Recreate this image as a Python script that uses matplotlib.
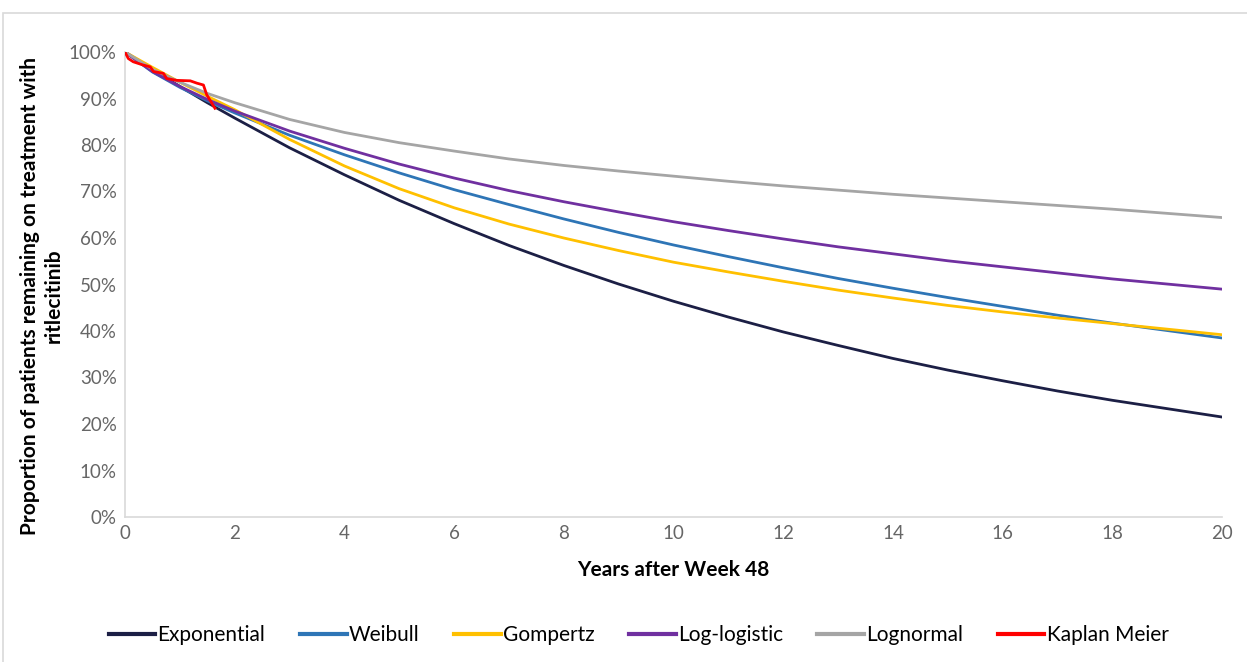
import matplotlib.pyplot as plt
from matplotlib.patches import Rectangle
from matplotlib.ticker import PercentFormatter

# values
years = [0, 0.5, 1, 1.5, 2, 3, 4, 5, 6, 7, 8, 9, 10, 11, 12, 13, 14, 15, 16, 17, 18, 19, 20]
exponential = [1.0, 0.962, 0.926, 0.891, 0.858, 0.794, 0.736, 0.681, 0.631, 0.584, 0.541, 0.501, 0.464,
               0.430, 0.398, 0.369, 0.341, 0.316, 0.293, 0.271, 0.251, 0.233, 0.215]
weibull = [1.0, 0.957, 0.924, 0.895, 0.869, 0.821, 0.779, 0.740, 0.704, 0.672, 0.641, 0.612, 0.585,
           0.560, 0.536, 0.513, 0.492, 0.472, 0.453, 0.434, 0.417, 0.401, 0.385]
gompertz = [1.0, 0.967, 0.935, 0.905, 0.876, 0.812, 0.755, 0.706, 0.665, 0.630, 0.600, 0.573, 0.548,
            0.527, 0.507, 0.488, 0.471, 0.455, 0.441, 0.428, 0.416, 0.404, 0.392]
loglogistic = [1.0, 0.958, 0.926, 0.898, 0.873, 0.830, 0.793, 0.759, 0.729, 0.702, 0.678, 0.656, 0.635,
               0.616, 0.598, 0.581, 0.566, 0.551, 0.538, 0.525, 0.512, 0.501, 0.490]
lognormal = [1.0, 0.963, 0.935, 0.911, 0.891, 0.855, 0.827, 0.805, 0.787, 0.770, 0.756, 0.744, 0.733,
             0.722, 0.712, 0.703, 0.694, 0.686, 0.678, 0.670, 0.662, 0.653, 0.644]

km_years = [0, 0.06, 0.15, 0.33, 0.46, 0.52, 0.70, 0.76, 0.94, 1.19, 1.31, 1.43, 1.49, 1.64]
km_surv = [1.0, 0.986, 0.979, 0.972, 0.968, 0.958, 0.954, 0.943, 0.939, 0.938, 0.933, 0.929, 0.908, 0.879]

series = [
    ("Exponential", exponential, "#1c1f45"),
    ("Weibull", weibull, "#2e75b6"),
    ("Gompertz", gompertz, "#ffc000"),
    ("Log-logistic", loglogistic, "#7030a0"),
    ("Lognormal", lognormal, "#a5a5a5"),
]

plt.rcParams['font.family'] = ['Lato', 'DejaVu Sans']
fig = plt.figure(figsize=(12.47, 6.62), dpi=100)
ax = fig.add_axes([125 / 1247, 145 / 662, 1097 / 1247, 465 / 662])

for name, vals, col in series:
    ax.plot(years, vals, color=col, lw=2.0, label=name)
ax.plot(km_years, km_surv, color="#ff0000", lw=2.0, label="Kaplan Meier", zorder=5)

ax.set_xlim(0, 20)
ax.set_ylim(0, 1)
ax.set_xticks(range(0, 21, 2))
ax.set_yticks([i / 10 for i in range(11)])
ax.yaxis.set_major_formatter(PercentFormatter(1.0, decimals=0))
ax.tick_params(length=0, labelsize=13.5, colors="#666666", pad=6)
for s in ["top", "right"]:
    ax.spines[s].set_visible(False)
for s in ["left", "bottom"]:
    ax.spines[s].set_color("#d9d9d9")
    ax.spines[s].set_linewidth(1.2)

ax.set_xlabel("Years after Week 48", fontsize=15, fontweight="bold", labelpad=13)
ax.set_ylabel("Proportion of patients remaining on treatment with\nritlecitinib",
              fontsize=15, fontweight="bold")
ax.yaxis.set_label_coords(-0.056, 0.475)

fig.legend(loc="center", bbox_to_anchor=(0.512, 1 - 635 / 662), ncol=6, frameon=False,
           fontsize=15, handlelength=2.25, handletextpad=0.1, columnspacing=1.65)
for line in fig.legends[0].get_lines():
    line.set_linewidth(3)

fig.patches.append(Rectangle((3 / 1247, -0.05), 1.1, 1 - 13 / 662 + 0.05, transform=fig.transFigure,
                             fill=False, edgecolor="#d9d9d9", lw=1.2))

fig.savefig("out.png", dpi=100)
